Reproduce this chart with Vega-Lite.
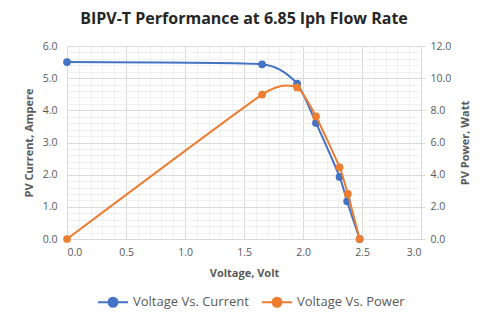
{
  "$schema": "https://vega.github.io/schema/vega-lite/v6.json",
  "width": 354,
  "height": 193,
  "autosize": "none",
  "padding": {"left": 67, "top": 46, "right": 59, "bottom": 75},
  "background": "white",
  "title": {
    "text": "BIPV-T Performance at 6.85 lph Flow Rate",
    "fontSize": 16,
    "fontWeight": "bold",
    "font": "Open Sans",
    "color": "#262626",
    "anchor": "middle",
    "offset": 14
  },
  "config": {
    "view": {"stroke": null},
    "axis": {
      "labelFont": "Open Sans",
      "titleFont": "Open Sans",
      "labelColor": "#595959",
      "titleColor": "#595959",
      "labelFontSize": 10.5,
      "titleFontSize": 11,
      "titleFontWeight": "bold",
      "domainColor": "#d9d9d9",
      "tickColor": "#d9d9d9"
    },
    "legend": {"labelFont": "Open Sans", "labelFontSize": 13, "labelColor": "#595959"}
  },
  "data": {
    "values": [
      {"v": 0.0, "val": 5.5, "series": "Voltage Vs. Current"},
      {"v": 1.653, "val": 5.43, "series": "Voltage Vs. Current"},
      {"v": 1.95, "val": 4.83, "series": "Voltage Vs. Current"},
      {"v": 2.11, "val": 3.61, "series": "Voltage Vs. Current"},
      {"v": 2.31, "val": 1.93, "series": "Voltage Vs. Current"},
      {"v": 2.374, "val": 1.17, "series": "Voltage Vs. Current"},
      {"v": 2.48, "val": 0.0, "series": "Voltage Vs. Current"},
      {"v": 0.0, "val": 0.0, "series": "Voltage Vs. Power"},
      {"v": 1.653, "val": 8.98, "series": "Voltage Vs. Power"},
      {"v": 1.95, "val": 9.42, "series": "Voltage Vs. Power"},
      {"v": 2.11, "val": 7.62, "series": "Voltage Vs. Power"},
      {"v": 2.31, "val": 4.46, "series": "Voltage Vs. Power"},
      {"v": 2.38, "val": 2.8, "series": "Voltage Vs. Power"},
      {"v": 2.48, "val": 0.0, "series": "Voltage Vs. Power"}
    ]
  },
  "encoding": {
    "x": {
      "field": "v",
      "type": "quantitative",
      "title": "Voltage, Volt",
      "scale": {"domain": [0, 3], "nice": false},
      "axis": {
        "values": [0,0.1,0.2,0.3,0.4,0.5,0.6,0.7,0.8,0.9,1,1.1,1.2,1.3,1.4,1.5,1.6,1.7,1.8,1.9,2,2.1,2.2,2.3,2.4,2.5,2.6,2.7,2.8,2.9,3],
        "labelExpr": "abs(datum.value*2 - round(datum.value*2)) < 0.001 ? format(datum.value, '.1f') : ''",
        "labelOverlap": false,
        "ticks": false,
        "labelPadding": 8,
        "titlePadding": 10,
        "gridColor": {"condition": {"test": "abs(datum.value*2 - round(datum.value*2)) < 0.001", "value": "#d9d9d9"}, "value": "#f0f0f0"}
      }
    },
    "color": {
      "field": "series",
      "type": "nominal",
      "scale": {"domain": ["Voltage Vs. Current", "Voltage Vs. Power"], "range": ["#4472C4", "#ED7D31"]},
      "legend": {
        "title": null,
        "orient": "none",
        "direction": "horizontal",
        "legendX": 30,
        "legendY": 240,
        "symbolType": "M-1,0H1M-0.3,0a0.3,0.3 0 1,0 0.6,0a0.3,0.3 0 1,0 -0.6,0",
        "symbolSize": 900,
        "symbolStrokeWidth": 2,
        "columnPadding": 9,
        "labelOffset": 4
      }
    }
  },
  "layer": [
    {
      "transform": [{"filter": "datum.series === 'Voltage Vs. Current'"}],
      "mark": {"type": "line", "interpolate": "cardinal", "tension": 0.5, "strokeWidth": 2, "point": {"filled": true, "size": 60}},
      "encoding": {
        "y": {
          "field": "val",
          "type": "quantitative",
          "title": "PV Current, Ampere",
          "scale": {"domain": [0, 6], "nice": false},
          "axis": {
            "orient": "left",
            "values": [0,0.2,0.4,0.6,0.8,1,1.2,1.4,1.6,1.8,2,2.2,2.4,2.6,2.8,3,3.2,3.4,3.6,3.8,4,4.2,4.4,4.6,4.8,5,5.2,5.4,5.6,5.8,6],
            "labelExpr": "abs(datum.value - round(datum.value)) < 0.001 ? format(datum.value, '.1f') : ''",
            "labelOverlap": false,
            "ticks": false,
            "labelPadding": 10,
            "titlePadding": 8,
            "gridColor": {"condition": {"test": "abs(datum.value - round(datum.value)) < 0.001", "value": "#d9d9d9"}, "value": "#f0f0f0"}
          }
        }
      }
    },
    {
      "transform": [{"filter": "datum.series === 'Voltage Vs. Power'"}],
      "mark": {"type": "line", "interpolate": "cardinal", "tension": 0.5, "strokeWidth": 2, "point": {"filled": true, "size": 60}},
      "encoding": {
        "y": {
          "field": "val",
          "type": "quantitative",
          "title": "PV Power, Watt",
          "scale": {"domain": [0, 12], "nice": false},
          "axis": {
            "orient": "right",
            "values": [0, 2, 4, 6, 8, 10, 12],
            "format": ".1f",
            "grid": false,
            "tickSize": 4,
            "labelPadding": 5,
            "titleAngle": 270,
            "titlePadding": 20
          }
        }
      }
    }
  ],
  "resolve": {"scale": {"y": "independent"}}
}
